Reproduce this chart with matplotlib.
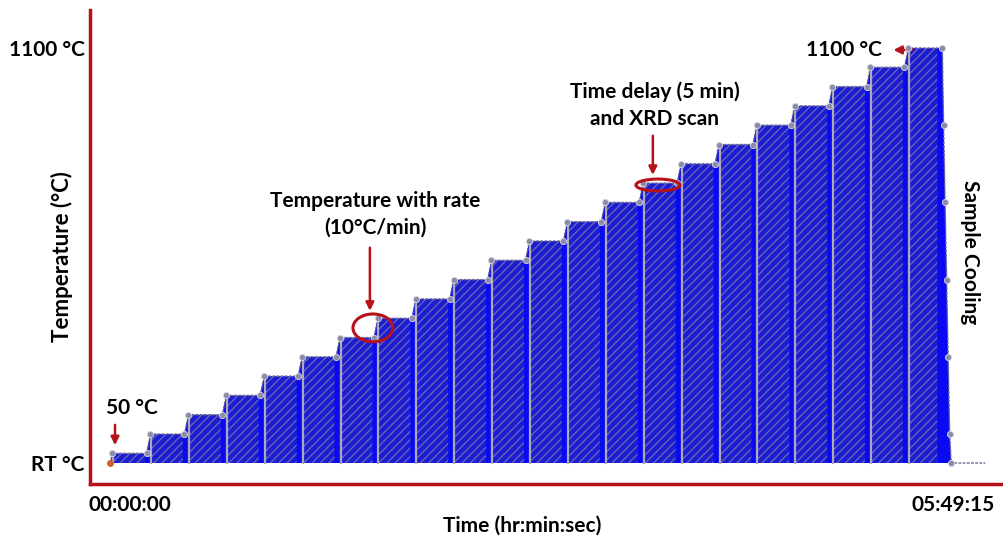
import numpy as np
import matplotlib
matplotlib.use("Agg")
import matplotlib.pyplot as plt
from matplotlib.patches import Ellipse

# Step temperatures (degC), one per hold
step_temps = [50, 100, 150, 200, 250, 300, 350, 400, 450, 500, 550,
              600, 650, 700, 750, 800, 850, 900, 950, 1000, 1050, 1100]
# Hold (time delay + XRD scan) start / end, in minutes
hold_start = [1, 16, 31, 46, 61, 76, 91, 106, 121, 136, 151,
              166, 181, 196, 211, 226, 241, 256, 271, 286, 301, 316]
hold_end = [14.5, 29.5, 44.5, 59.5, 74.5, 89.5, 104.5, 119.5, 134.5, 149.5, 164.5,
            179.5, 194.5, 209.5, 224.5, 239.5, 254.5, 269.5, 284.5, 299.5, 314.5, 329.5]
# Sample cooling
cool_time = [329.5, 330.0, 330.6, 331.2, 331.8, 332.4, 333.0]
cool_temp = [1100, 900, 700, 500, 300, 100, 25]
tail_end = 346.5
rt_temp = 25

plt.rcParams['font.family'] = ['Lato', 'DejaVu Sans']
plt.rcParams['hatch.linewidth'] = 1.0

red = '#b5121b'
blue = '#1c1cd2'
bright_blue = '#0a0af2'
fs = 15

# Build the profile from the lists
t_prof = [0]
T_prof = [rt_temp]
for s, e, T in zip(hold_start, hold_end, step_temps):
    t_prof += [s, e]
    T_prof += [T, T]
t_prof += cool_time[1:] + [tail_end]
T_prof += cool_temp[1:] + [rt_temp]

fig = plt.figure(figsize=(10.04, 5.40), dpi=100)
ax = fig.add_axes([90 / 1004, 56 / 540, 914 / 1004, 474 / 540])

# hatched body
ax.fill_between(t_prof, rt_temp, T_prof, facecolor=blue, edgecolor='#6464b8',
                hatch='////', linewidth=0, zorder=2)

# solid ramps between holds
for i in range(len(step_temps) - 1):
    ax.fill_between([hold_end[i] - 0.6, hold_end[i], hold_start[i + 1]], rt_temp,
                    [step_temps[i], step_temps[i], step_temps[i + 1]],
                    facecolor=bright_blue, linewidth=0, zorder=3)
ax.fill_between([hold_end[-1] - 2.0] + cool_time, rt_temp,
                [step_temps[-1]] + cool_temp, facecolor=bright_blue, linewidth=0, zorder=3)
ax.fill_between([0, hold_start[0]], rt_temp, [rt_temp, step_temps[0]],
                facecolor=bright_blue, linewidth=0, zorder=3)

# gray separators at the start of each hold
for s, T in zip(hold_start, step_temps):
    ax.plot([s + 0.3, s + 0.3], [rt_temp, T], color='#a9a9b9', lw=1.6, zorder=4)

# outline + corner dots
ax.plot(t_prof, T_prof, color='#6a6a96', lw=1.0, ls=(0, (2, 1)), zorder=5)
ax.plot(hold_start + hold_end, step_temps + step_temps, 'o', ms=4.5,
        color='#8c8ca8', mec='#d8d8e4', mew=0.6, zorder=6)
ax.plot(cool_time[1:], cool_temp[1:], 'o', ms=4.5,
        color='#8c8ca8', mec='#d8d8e4', mew=0.6, zorder=6)
ax.plot([0], [rt_temp], 'o', ms=4, color='#d06030', zorder=6)

ax.set_xlim(-7.9, 353.9)
ax.set_ylim(-29.4, 1198.4)

for side in ['top', 'right']:
    ax.spines[side].set_visible(False)
for side in ['left', 'bottom']:
    ax.spines[side].set_color(red)
    ax.spines[side].set_linewidth(2.5)

ax.set_xticks([])
ax.set_yticks([rt_temp, 1100])
ax.set_yticklabels(['RT °C', '1100 °C'], fontsize=fs, fontweight='bold')
ax.tick_params(axis='y', length=0, pad=4)
ax.set_ylabel('Temperature (°C)', fontsize=16, fontweight='bold')
ax.yaxis.set_label_coords(-0.019, 0.48)

ax.text(-0.002, -0.044, '00:00:00', transform=ax.transAxes, ha='left', va='center',
        fontsize=fs, fontweight='bold')
ax.text(0.990, -0.044, '05:49:15', transform=ax.transAxes, ha='right', va='center',
        fontsize=fs, fontweight='bold')
ax.text(0.473, -0.087, 'Time (hr:min:sec)', transform=ax.transAxes, ha='center',
        va='center', fontsize=15, fontweight='bold')

arrow = dict(arrowstyle='-|>', color=red, lw=1.8, mutation_scale=12)

ax.text(8.7, 167, '50 °C', ha='center', va='center', fontsize=fs, fontweight='bold')
ax.annotate('', xy=(2.0, 64), xytext=(2.0, 131), arrowprops=arrow)

ax.text(104.9, 670, 'Temperature with rate\n(10°C/min)', ha='center', va='center',
        fontsize=fs, fontweight='bold', linespacing=1.4)
ax.annotate('', xy=(102.9, 412), xytext=(102.9, 590), arrowprops=arrow)
ax.add_patch(Ellipse((104.1, 375), 15.8, 72, fill=False, ec=red, lw=2.2, zorder=7))

ax.text(215.7, 952, 'Time delay (5 min)\nand XRD scan', ha='center', va='center',
        fontsize=fs, fontweight='bold', linespacing=1.4)
ax.annotate('', xy=(214.9, 764), xytext=(214.9, 880), arrowprops=arrow)
ax.add_patch(Ellipse((216.9, 745), 17.4, 31, fill=False, ec=red, lw=2.2, zorder=7))

ax.text(290.5, 1095, '1100 °C', ha='center', va='center', fontsize=fs, fontweight='bold')
ax.annotate('', xy=(309.0, 1095), xytext=(318.6, 1095), arrowprops=arrow)

ax.text(340.4, 572, 'Sample Cooling', rotation=-90, ha='center', va='center',
        fontsize=fs, fontweight='bold')

fig.savefig('out.png', dpi=100)
